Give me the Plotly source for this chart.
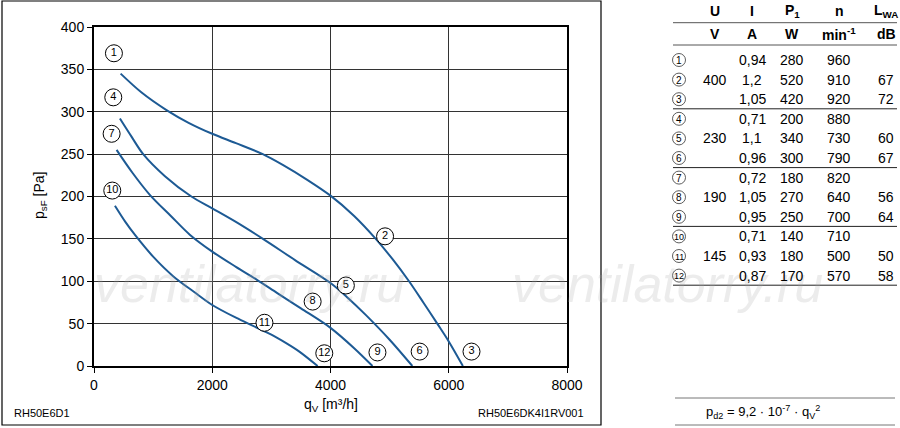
import plotly.graph_objects as go

# fan curves: q_V [m3/h] against p_sF [Pa], one per supply voltage
q_400 = [450, 800, 1226, 1600, 2000, 2400, 2855, 3200, 3600, 4000, 4400, 4766, 5050, 5328, 5570, 5806, 6000, 6239]
p_400 = [345, 323, 302, 287, 274, 263, 250, 237, 220, 201, 177, 150, 126, 100, 75, 50, 29, 0]

q_230 = [438, 640, 832, 1200, 1647, 2000, 2400, 2858, 3400, 4000, 4300, 4600, 5000, 5384]
p_230 = [292, 270, 250, 224, 200, 186, 170, 150, 125, 98, 80, 60, 31, 0]

q_190 = [382, 650, 944, 1300, 1620, 2000, 2400, 2750, 3100, 3500, 4000, 4400, 4710]
p_190 = [255, 228, 202, 177, 155, 135, 117, 102, 86, 68, 45, 21, 0]

q_145 = [354, 530, 700, 1000, 1338, 1700, 2000, 2400, 2700, 3000, 3250, 3473, 3782]
p_145 = [189, 170, 154, 129, 106, 87, 72, 57, 47, 37, 27, 17, 0]

# circled operating point labels on the chart
point_ids = ['1', '2', '3', '4', '5', '6', '7', '8', '9', '10', '11', '12']
point_q = [337, 4923, 6385, 326, 4260, 5508, 298, 3698, 4794, 309, 2883, 3895]
point_p = [369, 153, 17, 317, 95, 17, 274, 76, 16, 207, 51, 15]

# table on the right
col_heads = ['U', 'I', 'P<sub>1</sub>', 'n', 'L<sub>WA</sub>']
col_units = ['V', 'A', 'W', 'min<sup>-1</sup>', 'dB']
col_U = ['', '400', '', '', '230', '', '', '190', '', '', '145', '']
col_I = ['0,94', '1,2', '1,05', '0,71', '1,1', '0,96', '0,72', '1,05', '0,95', '0,71', '0,93', '0,87']
col_P1 = ['280', '520', '420', '200', '340', '300', '180', '270', '250', '140', '180', '170']
col_n = ['960', '910', '920', '880', '730', '790', '820', '640', '700', '710', '500', '570']
col_LWA = ['', '67', '72', '', '60', '67', '', '56', '64', '', '50', '58']

W, H = 900, 428
FONT = 'Liberation Sans, Arial, sans-serif'
BLUE = '#1d5a94'


def fx(px):
    return px / W


def fy(py):
    return 1 - py / H


fig = go.Figure()

for q, p in [(q_400, p_400), (q_230, p_230), (q_190, p_190), (q_145, p_145)]:
    fig.add_trace(go.Scatter(x=q, y=p, mode='lines', showlegend=False, hoverinfo='skip',
                             line=dict(color=BLUE, width=2, shape='spline', smoothing=0.9)))

fig.add_trace(go.Scatter(
    x=point_q, y=point_p, mode='markers+text', text=point_ids, showlegend=False,
    textposition='middle center', textfont=dict(family=FONT, size=11, color='black'),
    marker=dict(symbol='circle', size=17, color='white', line=dict(color='black', width=1)),
    cliponaxis=False))

annotations = []
shapes = []


def text(x, y, s, size=14, xanchor='center', bold=False, **kw):
    if not s:
        return
    if bold:
        s = '<b>' + s + '</b>'
    annotations.append(dict(x=fx(x), y=fy(y), xref='paper', yref='paper', text=s, showarrow=False,
                            xanchor=xanchor, yanchor='middle',
                            font=dict(family=FONT, size=size, color='black'), **kw))


def hline(x0, x1, y, color='#333', width=1):
    shapes.append(dict(type='line', xref='paper', yref='paper', x0=fx(x0), x1=fx(x1),
                       y0=fy(y), y1=fy(y), line=dict(color=color, width=width)))


# watermark
for cx in [249, 667]:
    annotations.append(dict(x=fx(cx), y=fy(284), xref='paper', yref='paper', text='<i>ventilatorry.ru</i>',
                            showarrow=False, xanchor='center', yanchor='middle',
                            font=dict(family=FONT, size=52, color='rgba(170,170,170,0.22)')))

# axis titles and footer
text(40, 196, 'p<sub>sF</sub> [Pa]', textangle=-90)
text(331, 405, 'q<sub>V</sub> [m³/h]')
text(12, 413, 'RH50E6D1', size=11, xanchor='left')
text(586, 413, 'RH50E6DK4I1RV001', size=11, xanchor='right')

# outer frame
shapes.append(dict(type='rect', xref='paper', yref='paper', x0=fx(2), x1=fx(601), y0=fy(425), y1=fy(1),
                   line=dict(color='black', width=1.2)))

# table
col_x = [715, 752, 792, 839, 886]
for cx, h, u in zip(col_x, col_heads, col_units):
    text(cx, 11, h, bold=True)
    text(cx, 34, u, bold=True)
hline(673, 897, 22.7, color='#555')
hline(673, 897, 45, color='#555')

for i, rid in enumerate(point_ids):
    ry = 60 + 19.6 * i
    shapes.append(dict(type='circle', xref='paper', yref='paper', x0=fx(672.5), x1=fx(685.5),
                       y0=fy(ry + 6.5), y1=fy(ry - 6.5), line=dict(color='#333', width=0.8)))
    text(679, ry + 0.5, rid, size=9 if len(rid) > 1 else 10)
    for cx, col in zip(col_x, [col_U, col_I, col_P1, col_n, col_LWA]):
        text(cx, ry, col[i])
for gy in [108.8, 167.6, 226.4, 285.2]:
    hline(673, 897, gy, color='#222')

# dynamic pressure box
hline(675, 895, 398, color='#777')
hline(675, 895, 425, color='#777')
text(763, 412, 'p<sub>d2</sub> = 9,2 · 10<sup>-7</sup> · q<sub>V</sub><sup>2</sup>', size=13)

axis_common = dict(showgrid=True, gridcolor='#333', gridwidth=1, showline=True, mirror=True,
                   linecolor='black', linewidth=2, ticks='outside', ticklen=5, tickcolor='black',
                   tickfont=dict(family=FONT, size=14, color='black'), zeroline=False, fixedrange=True,
                   automargin=False)

fig.update_layout(
    width=W, height=H, autosize=False,
    margin=dict(l=0, r=0, t=0, b=0, pad=0),
    paper_bgcolor='white', plot_bgcolor='white',
    xaxis=dict(domain=[fx(94), fx(567)], range=[0, 8000], tickvals=[0, 2000, 4000, 6000, 8000], **axis_common),
    yaxis=dict(domain=[fy(366), fy(27)], range=[0, 400], tickvals=list(range(0, 401, 50)), **axis_common),
    annotations=annotations,
    shapes=shapes,
)

# the page body has a default 8px margin; drop it so the figure sits at the window corner
fig.write_html('out.html', config={'displayModeBar': False},
               post_script="document.body.style.margin='0';")
